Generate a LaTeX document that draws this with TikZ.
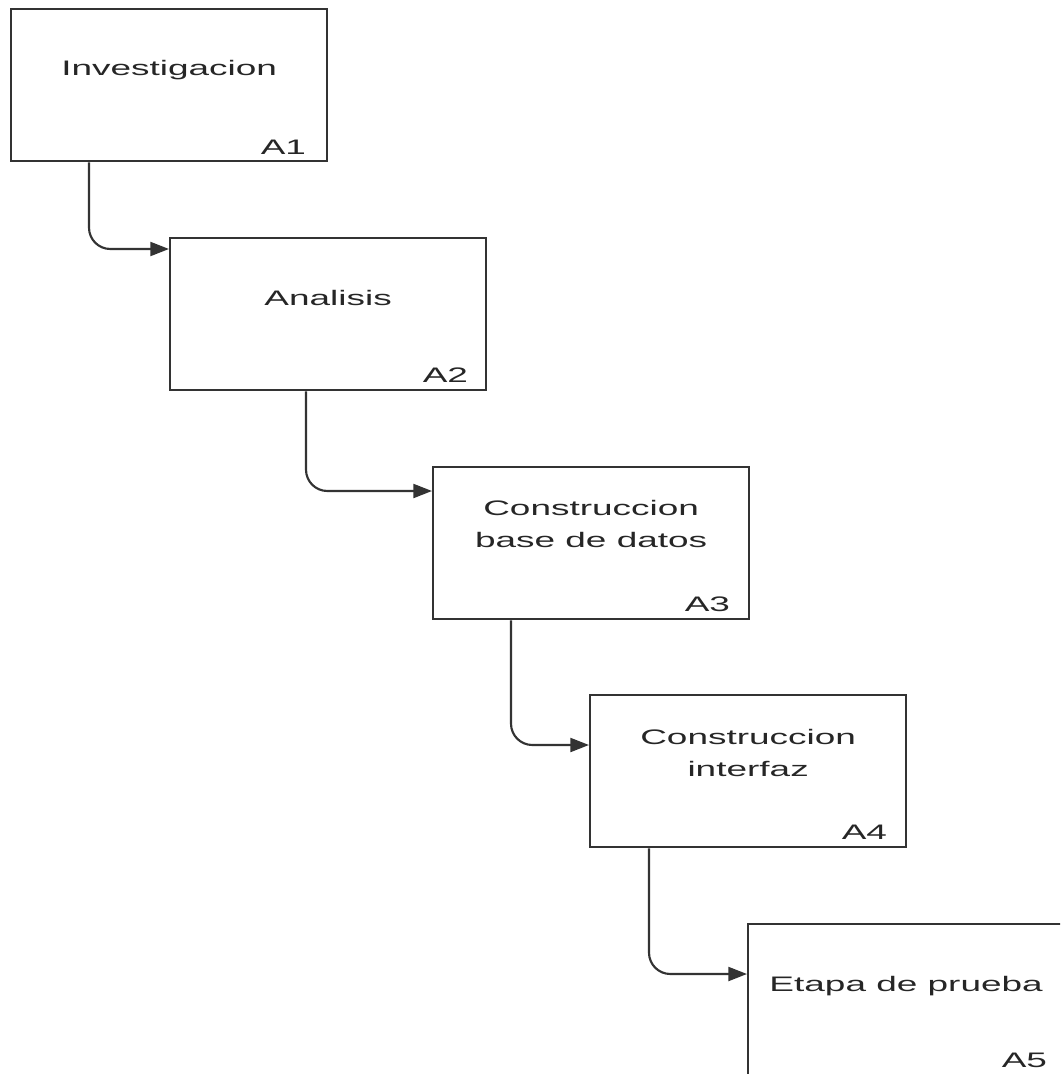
\documentclass[tikz,border=0pt]{standalone}
\usepackage{fontspec}
\setmainfont{Liberation Sans}
\usepackage{graphicx}
\usetikzlibrary{calc,arrows.meta}
% horizontally widened lettering used throughout the chart
\newcommand{\wide}[1]{\scalebox{1.76}[1]{#1}}
\begin{document}
\begin{tikzpicture}[x=0.75pt,y=-0.75pt,
  stage/.style={draw=black!80, line width=1.7pt, minimum width=237pt,
    minimum height=114pt, anchor=north west, inner sep=0pt},
  title/.style={text=black!85, font=\fontsize{15.75}{24.4}\selectfont,
    align=center, inner sep=0pt},
  tag/.style={text=black!85, font=\fontsize{15.75}{24.4}\selectfont,
    anchor=base east, inner sep=0pt},
  flow/.style={draw=black!80, line width=1.6pt, rounded corners=16pt,
    -{Triangle[length=14pt,width=10.5pt]}}]
\useasboundingbox (0,0) rectangle (1060,1074);
\clip (0,0) rectangle (1060,1074);

% stage boxes
\node[stage] (a1) at (10,8) {};
\node[stage] (a2) at (169,237) {};
\node[stage] (a3) at (432,466) {};
\node[stage] (a4) at (589,694) {};
\node[stage] (a5) at (747,923) {};

% stage names
\node[title, anchor=base] (t1) at ($(a1.north)+(0,68)$) {\wide{Investigacion}};
\node[title, anchor=base] (t2) at ($(a2.north)+(0,68)$) {\wide{Analisis}};
\node[title] (t3) at ($(a3.north)+(0,58)$) {\wide{Construccion}\\\wide{base de datos}};
\node[title] (t4) at ($(a4.north)+(0,59)$) {\wide{Construccion}\\\wide{interfaz}};
\node[title, anchor=base] (t5) at ($(a5.north)+(0,68)$) {\wide{Etapa de prueba}};

% stage codes
\node[tag] (l1) at ($(a1.south east)+(-22,-8)$) {\wide{A1}};
\node[tag] (l2) at ($(a2.south east)+(-19,-9)$) {\wide{A2}};
\node[tag] (l3) at ($(a3.south east)+(-20,-9)$) {\wide{A3}};
\node[tag] (l4) at ($(a4.south east)+(-20,-9)$) {\wide{A4}};
\node[tag] (l5) at ($(a5.south east)+(-18,-10)$) {\wide{A5}};

% sequence connectors
\draw[flow] ($(a1.south west)+(79,0)$) |- ($(a2.north west)+(0,12)$);
\draw[flow] ($(a2.south west)+(137,0)$) |- ($(a3.north west)+(0,25)$);
\draw[flow] ($(a3.south west)+(79,0)$) |- ($(a4.north west)+(0,51)$);
\draw[flow] ($(a4.south west)+(60,0)$) |- ($(a5.north west)+(0,51)$);
\end{tikzpicture}
\end{document}
